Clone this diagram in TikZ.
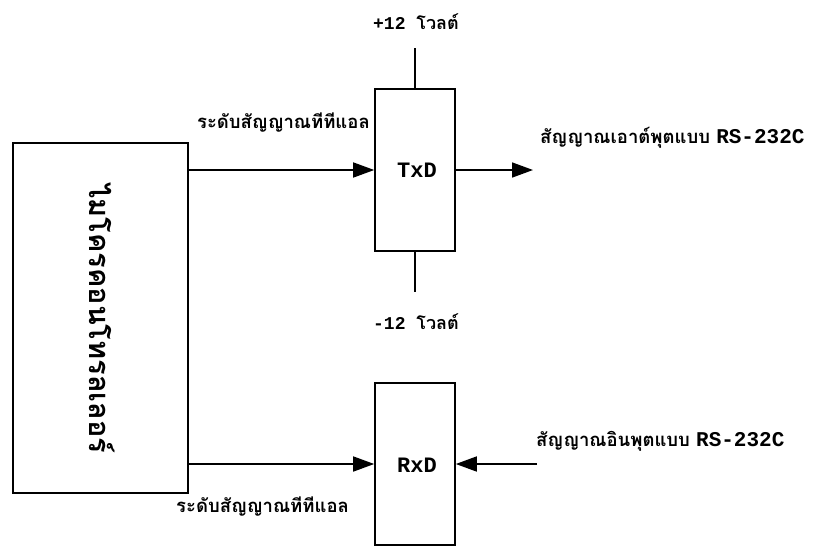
\documentclass[tikz,border=0pt]{standalone}
\usepackage{fontspec}
\usetikzlibrary{arrows.meta}
\newfontfamily\thaifont[Script=Thai]{Loma}
\newfontfamily\monofont{Liberation Mono}
\newcommand\latinpart{\monofont\bfseries\fontsize{21}{23}\selectfont}
\begin{document}
\begin{tikzpicture}[x=1pt,y=-1pt,
  blk/.style={draw,line width=1.6pt,inner sep=0pt},
  wire/.style={line width=1.6pt},
  arr/.style={wire,-{Triangle[length=21pt,width=15pt]}},
  lbl/.style={inner sep=0pt,font=\thaifont\bfseries\fontsize{18.5}{21}\selectfont},
  mono/.style={inner sep=0pt,font=\monofont\bfseries\fontsize{22}{24}\selectfont}]
\useasboundingbox (0,0) rectangle (835,547);
% blocks
\node[blk,minimum width=175pt,minimum height=350pt] (mcu) at (100.5,318) {};
\node[rotate=-90,inner sep=0pt,font=\thaifont\bfseries\fontsize{29}{31}\selectfont] (mcut) at (102,318) {ไมโครคอนโทรลเลอร์};
\node[blk,minimum width=80pt,minimum height=162pt] (txd) at (415,170) {};
\node[mono] (txdt) at (417,170) {TxD};
\node[blk,minimum width=80pt,minimum height=162pt] (rxd) at (415,464) {};
\node[mono] (rxdt) at (417,465) {RxD};
% supply lines
\node[mono,font=\monofont\bfseries\fontsize{18}{20}\selectfont] (vp) at (416,22) {+12 {\thaifont\fontsize{18}{20}\selectfont โวลต์}};
\node[mono,font=\monofont\bfseries\fontsize{18}{20}\selectfont] (vm) at (416,322) {-12 {\thaifont\fontsize{18}{20}\selectfont โวลต์}};
\coordinate (vpend) at (415,48);
\coordinate (vmend) at (415,292);
\draw[wire] (txd.north) -- (vpend);
\draw[wire] (txd.south) -- (vmend);
% signals
\coordinate (mcuTx) at (mcu.east |- txd.west);
\draw[arr] (mcuTx) -- (txd.west);
\coordinate (mcuRx) at (mcu.east |- rxd.west);
\draw[arr] (mcuRx) -- (rxd.west);
\coordinate (txout) at (533,170);
\draw[arr] (txd.east) -- (txout);
\coordinate (rxin) at (537,464);
\draw[arr] (rxin) -- (rxd.east);
% labels
\node[lbl,anchor=base east] (ttl1) at (370,128) {ระดับสัญญาณทีทีแอล};
\node[lbl,anchor=base west] (outl) at (540,143) {สัญญาณเอาต์พุตแบบ {\latinpart RS-232C}};
\node[lbl,anchor=base west] (inl) at (536,446) {สัญญาณอินพุตแบบ {\latinpart RS-232C}};
\node[lbl,anchor=base west] (ttl2) at (176,512) {ระดับสัญญาณทีทีแอล};
\end{tikzpicture}
\end{document}
